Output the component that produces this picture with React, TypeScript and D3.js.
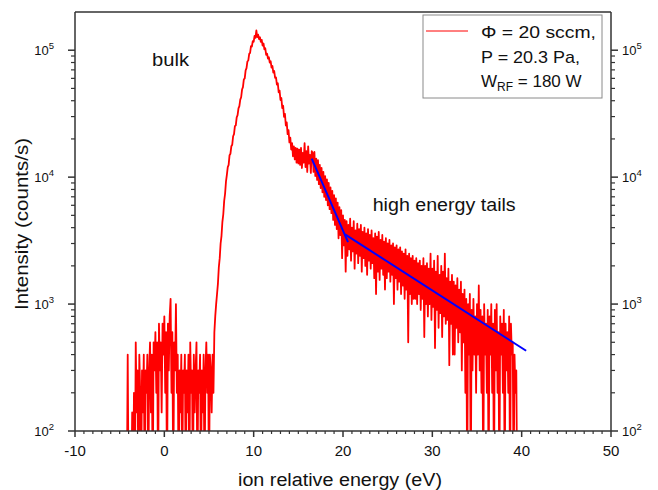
import React from "react";
import * as d3 from "d3";

// ---- data ----
const energyStart = -4.5; // eV, first channel
const energyStep = 0.1; // eV per channel
// counts/s per channel (0 = empty channel)
const counts: number[] = [
  0, 0, 0, 0, 400, 0, 0, 0, 0, 140, // -4.5
  0, 200, 0, 500, 140, 300, 0, 400, 200, 0, // -3.5
  300, 140, 400, 0, 300, 200, 400, 0, 300, 500, // -2.5
  140, 400, 0, 500, 300, 600, 200, 500, 0, 700, // -1.5
  300, 500, 140, 700, 400, 800, 200, 600, 0, 700, // -0.5
  300, 800, 1100, 200, 600, 0, 500, 300, 1000, 200, // 0.5
  400, 0, 300, 140, 400, 0, 300, 200, 400, 0, // 1.5
  300, 140, 400, 0, 500, 200, 300, 0, 400, 140, // 2.5
  300, 500, 0, 300, 200, 400, 0, 300, 140, 400, // 3.5
  0, 300, 500, 200, 400, 0, 400, 300, 140, 400, // 4.5
  200, 600, 800, 1000, 1200, 1450, 1950, 2300, 3000, 3450, // 5.5
  4450, 5100, 6500, 7400, 9200, 10400, 12000, 12500, 14900, 15300, // 6.5
  17500, 18000, 21000, 21800, 25200, 25600, 29600, 30800, 34800, 36300, // 7.5
  40800, 42600, 49000, 51200, 59000, 60000, 69300, 72200, 81500, 83000, // 8.5
  93500, 95200, 107500, 107000, 118000, 116500, 129500, 125000, 143000, 127000, // 9.5
  132500, 122500, 126500, 116500, 120500, 108500, 113000, 101500, 103500, 92000, // 10.5
  94000, 86000, 88000, 80000, 82000, 73000, 75000, 66500, 68500, 60500, // 11.5
  61000, 53500, 55000, 46500, 48000, 40500, 42000, 35000, 36500, 29800, // 12.5
  31500, 25500, 27000, 21800, 23500, 18800, 20500, 16500, 18500, 14600, // 13.5
  17500, 13800, 17000, 13000, 16800, 12800, 16500, 12500, 17000, 11800, // 14.5
  15500, 13000, 18500, 12000, 16000, 11000, 17500, 12800, 15000, 10800, // 15.5
  16000, 15500, 11000, 15800, 10200, 14000, 9500, 13600, 8800, 12500, // 16.5
  8200, 11800, 7600, 11000, 7000, 10200, 6600, 9600, 6000, 9000, // 17.5
  5600, 8300, 5200, 7800, 4600, 7200, 4200, 6800, 3900, 6300, // 18.5
  3300, 5800, 3500, 5500, 2300, 5000, 2900, 4600, 1800, 4500, // 19.5
  2400, 4200, 2700, 4700, 2200, 4000, 2600, 4500, 1900, 3800, // 20.5
  2500, 4300, 2100, 3900, 2400, 4200, 1800, 3700, 2300, 4000, // 21.5
  2000, 3600, 1700, 3900, 2200, 3500, 1900, 3800, 2100, 3300, // 22.5
  1600, 3600, 1200, 3400, 1800, 3700, 1550, 3200, 1900, 3500, // 23.5
  1700, 3100, 1300, 3300, 1600, 3000, 1800, 3200, 1500, 2900, // 24.5
  1700, 3000, 1000, 2800, 1600, 2900, 1300, 2700, 1500, 2800, // 25.5
  1200, 2600, 1400, 2500, 1100, 2700, 1300, 2400, 500, 2500, // 26.5
  1200, 2300, 1000, 2400, 1100, 2200, 1100, 2300, 1000, 2100, // 27.5
  1200, 2200, 900, 2000, 1100, 2300, 550, 2000, 1000, 2100, // 28.5
  800, 1900, 1000, 2500, 750, 1900, 950, 2200, 450, 1800, // 29.5
  900, 2400, 650, 1700, 850, 2000, 550, 1800, 800, 2500, // 30.5
  700, 1600, 750, 1900, 330, 1500, 700, 1700, 400, 1500, // 31.5
  400, 1400, 650, 1600, 500, 1300, 600, 1500, 300, 1200, // 32.5
  500, 1300, 200, 1100, 0, 1000, 400, 1200, 0, 900, // 33.5
  300, 1100, 400, 800, 200, 1000, 400, 1400, 300, 900, // 34.5
  200, 800, 0, 1000, 400, 700, 200, 900, 0, 800, // 35.5
  400, 1000, 200, 700, 0, 900, 300, 1000, 200, 600, // 36.5
  0, 800, 400, 700, 200, 900, 0, 700, 300, 600, // 37.5
  200, 800, 0, 700, 400, 500, 0, 400, 200, 300, // 38.5
  0, 0, // 39.5
];

// exponential fits (blue)
const fitSteepEnergy = [16.5, 20.56];
const fitSteepCounts = [14000, 3080];
const fitTailEnergy = [20.23, 40.5];
const fitTailCounts = [3540, 429];

const xTickValues = [-10, 0, 10, 20, 30, 40, 50];
const yDecades = [2, 3, 4, 5];

const legendLines = ["\u03A6 = 20 sccm,", "P = 20.3 Pa,"];

const FONT = "'Liberation Sans', Arial, Helvetica, sans-serif";

export default function App() {
  const W = 658;
  const H = 490;
  const L = 75, R = 611, T = 12, B = 431;
  const x = d3.scaleLinear().domain([-10, 50]).range([L, R]);
  const y = d3.scaleLog().domain([100, 200000]).range([B, T]);

  const pts = counts.map((c, i) => [energyStart + i * energyStep, c] as [number, number]);
  const line = d3
    .line<[number, number]>()
    .x((d) => x(d[0]))
    .y((d) => y(Math.max(d[1], 30)));

  const fit1 = fitSteepEnergy.map((e, i) => [e, fitSteepCounts[i]] as [number, number]);
  const fit2 = fitTailEnergy.map((e, i) => [e, fitTailCounts[i]] as [number, number]);

  const xMinor = d3.range(-10, 51, 1).filter((v) => v % 10 !== 0);
  const yMinor: number[] = [];
  yDecades.forEach((d) => {
    for (let m = 2; m <= 9; m++) {
      const v = m * Math.pow(10, d);
      if (v < 200000) yMinor.push(v);
    }
  });

  const axisColor = "#333";

  return (
    <svg
      width={W}
      height={H}
      style={{ position: "absolute", left: 0, top: 0, background: "#fff" }}
      fontFamily={FONT}
    >
      <rect x={0} y={0} width={W} height={H} fill="#fff" />
      <defs>
        <clipPath id="plotClip">
          <rect x={L} y={T} width={R - L} height={B - T} />
        </clipPath>
      </defs>

      <g clipPath="url(#plotClip)">
        <path d={line(pts) || ""} fill="none" stroke="#ff0000" strokeWidth={1.8} strokeLinejoin="round" />
        <path d={line(fit1) || ""} fill="none" stroke="#0000ff" strokeWidth={2} />
        <path d={line(fit2) || ""} fill="none" stroke="#0000ff" strokeWidth={2} />
      </g>

      {/* frame */}
      <line x1={L} x2={R} y1={T} y2={T} stroke={axisColor} strokeWidth={1.5} />
      <line x1={L} x2={R} y1={B} y2={B} stroke={axisColor} strokeWidth={1.5} />
      <line x1={L} x2={L} y1={T} y2={B} stroke={axisColor} strokeWidth={1.5} />
      <line x1={R} x2={R} y1={T} y2={B} stroke={axisColor} strokeWidth={1.5} />

      {/* x ticks */}
      {xTickValues.map((v) => (
        <g key={"xt" + v}>
          <line x1={x(v)} x2={x(v)} y1={B} y2={B + 6} stroke={axisColor} strokeWidth={1.5} />
          <text x={x(v)} y={456} fontSize={15} textAnchor="middle" fill="#111">
            {v}
          </text>
        </g>
      ))}
      {xMinor.map((v) => (
        <line key={"xm" + v} x1={x(v)} x2={x(v)} y1={B} y2={B + 3} stroke={axisColor} strokeWidth={1.2} />
      ))}

      {/* y ticks left & right */}
      {yDecades.map((d) => {
        const yy = y(Math.pow(10, d));
        return (
          <g key={"yt" + d}>
            <line x1={L - 7} x2={L} y1={yy} y2={yy} stroke={axisColor} strokeWidth={1.5} />
            <line x1={R} x2={R + 7} y1={yy} y2={yy} stroke={axisColor} strokeWidth={1.5} />
            <text x={54} y={yy + 5} fontSize={13} textAnchor="end" fill="#111">
              10<tspan dy={-6} fontSize={9.5}>{d}</tspan>
            </text>
            <text x={622} y={yy + 5} fontSize={13} textAnchor="start" fill="#111">
              10<tspan dy={-6} fontSize={9.5}>{d}</tspan>
            </text>
          </g>
        );
      })}
      {yMinor.map((v) => (
        <g key={"ym" + v}>
          <line x1={L - 4} x2={L} y1={y(v)} y2={y(v)} stroke={axisColor} strokeWidth={1.2} />
          <line x1={R} x2={R + 4} y1={y(v)} y2={y(v)} stroke={axisColor} strokeWidth={1.2} />
        </g>
      ))}

      {/* axis titles */}
      <text x={340} y={486} fontSize={18} textAnchor="middle" fill="#111" textLength={204} lengthAdjust="spacingAndGlyphs">
        ion relative energy (eV)
      </text>
      <text
        transform={`translate(28, ${224}) rotate(-90)`}
        fontSize={18}
        textAnchor="middle"
        fill="#111"
        textLength={172}
        lengthAdjust="spacingAndGlyphs"
      >
        Intensity (counts/s)
      </text>

      {/* annotations */}
      <text x={152} y={65.5} fontSize={18} fill="#111" textLength={37} lengthAdjust="spacingAndGlyphs">
        bulk
      </text>
      <text x={372.7} y={210.7} fontSize={17.5} fill="#111" textLength={143} lengthAdjust="spacingAndGlyphs">
        high energy tails
      </text>

      {/* legend */}
      <rect x={423} y={15} width={179} height={83} fill="#fff" stroke="#8a8a8a" strokeWidth={1} />
      <line x1={426} x2={468} y1={31} y2={31} stroke="#ff0000" strokeWidth={1} />
      <text x={481} y={38} fontSize={17} fill="#111" textLength={115} lengthAdjust="spacingAndGlyphs">
        {legendLines[0]}
      </text>
      <text x={481} y={63} fontSize={17} fill="#111" textLength={99} lengthAdjust="spacingAndGlyphs">
        {legendLines[1]}
      </text>
      <text x={481} y={87} fontSize={17} fill="#111">
        W<tspan dy={4} fontSize={12}>RF</tspan>
        <tspan dy={-4}> = 180 W</tspan>
      </text>
    </svg>
  );
}
